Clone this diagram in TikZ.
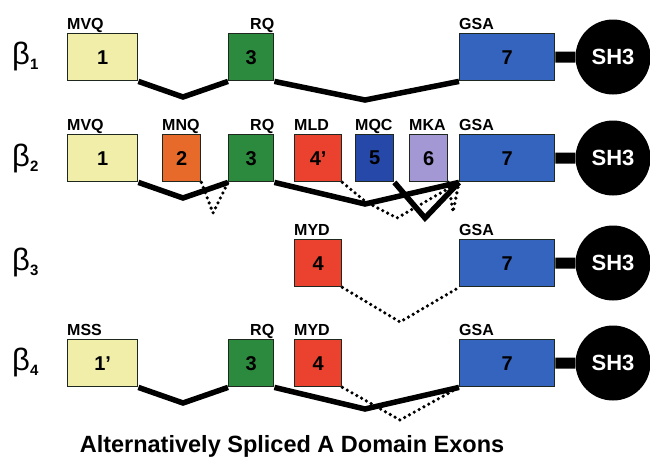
\documentclass[tikz,border=0pt]{standalone}
\usepackage{fontspec}
\setmainfont{Liberation Sans}
\usetikzlibrary{backgrounds}

\definecolor{exA}{RGB}{240,238,168}
\definecolor{exB}{RGB}{232,106,42}
\definecolor{exC}{RGB}{44,138,62}
\definecolor{exD}{RGB}{234,66,46}
\definecolor{exE}{RGB}{38,72,168}
\definecolor{exF}{RGB}{164,152,212}
\definecolor{exG}{RGB}{52,100,190}
\definecolor{rim}{RGB}{30,40,30}

\tikzset{
  exon/.style={draw=rim, line width=1.4pt, anchor=north west, inner sep=0pt,
    minimum height=47pt, text=black, font=\fontsize{20}{20}\selectfont\bfseries},
  wA/.style={minimum width=70pt},
  wB/.style={minimum width=38pt},
  wC/.style={minimum width=45pt},
  wD/.style={minimum width=47pt},
  wG/.style={minimum width=95pt},
  tag/.style={anchor=base west, inner sep=0pt, yshift=4pt,
    font=\fontsize{16}{16}\selectfont\bfseries},
  tagr/.style={tag, anchor=base east},
  intron/.style={line width=5.5pt, line join=miter},
  skipline/.style={line width=3.6pt, line cap=round, dash pattern=on 0pt off 5.5pt},
  sh3ball/.style={circle, fill=black, minimum size=75pt, inner sep=0pt,
    text=white, font=\fontsize{22}{22}\selectfont\bfseries},
  linkbar/.style={line width=11pt},
  iso/.style={anchor=base west, inner sep=0pt, font=\fontsize{31}{31}\selectfont},
  titletext/.style={anchor=base, inner sep=0pt, font=\fontsize{23.5}{23.5}\selectfont\bfseries}
}

\newcommand{\isosub}[1]{\raisebox{-5pt}{\fontsize{15}{15}\selectfont\bfseries #1}}

\begin{document}
\begin{tikzpicture}[x=1pt, y=-1pt]
\useasboundingbox (0,0) rectangle (650,461);

% ---------- beta 1 ----------
\node[iso] (b1) at (12,64) {β\isosub{1}};
\node[exon, wA, fill=exA] (a1) at (67,33) {1};
\node[exon, wC, fill=exC] (a3) at (228,33) {3};
\node[exon, wG, fill=exG] (a7) at (459,33) {7};
\node[sh3ball] (ash) at (613,57) {SH3};
\node[tag]  (a1t) at (a1.north west) {MVQ};
\node[tagr] (a3t) at (a3.north east) {RQ};
\node[tag]  (a7t) at (a7.north west) {GSA};
\coordinate (a13) at (183,97);
\coordinate (a37) at (365,100);

% ---------- beta 2 ----------
\node[iso] (b2) at (12,166) {β\isosub{2}};
\node[exon, wA, fill=exA] (c1) at (67,134) {1};
\node[exon, wB, fill=exB] (c2) at (162,134) {2};
\node[exon, wC, fill=exC] (c3) at (228,134) {3};
\node[exon, wD, fill=exD] (c4) at (294,134) {4’};
\node[exon, wB, fill=exE] (c5) at (355,134) {5};
\node[exon, wB, fill=exF] (c6) at (409,134) {6};
\node[exon, wG, fill=exG] (c7) at (459,134) {7};
\node[sh3ball] (csh) at (613,158) {SH3};
\node[tag]  (c1t) at (c1.north west) {MVQ};
\node[tag]  (c2t) at (c2.north west) {MNQ};
\node[tagr] (c3t) at (c3.north east) {RQ};
\node[tag]  (c4t) at (c4.north west) {MLD};
\node[tag]  (c5t) at (c5.north west) {MQC};
\node[tag]  (c6t) at (c6.north west) {MKA};
\node[tag]  (c7t) at (c7.north west) {GSA};
\coordinate (c13) at (183,198);
\coordinate (c37) at (365,204);
\coordinate (c57) at (425,218);
\coordinate (c23) at (213,213);
\coordinate (c4a) at (366,202);
\coordinate (c4b) at (397,218);
\coordinate (c67) at (453,212);

% ---------- beta 3 ----------
\node[iso] (b3) at (12,270) {β\isosub{3}};
\node[exon, wD, fill=exD] (d4) at (294,239) {4};
\node[exon, wG, fill=exG] (d7) at (459,239) {7};
\node[sh3ball] (dsh) at (613,263) {SH3};
\node[tag]  (d4t) at (d4.north west) {MYD};
\node[tag]  (d7t) at (d7.north west) {GSA};
\coordinate (d47) at (400,322);

% ---------- beta 4 ----------
\node[iso] (b4) at (12,370) {β\isosub{4}};
\node[exon, wA, fill=exA] (e1) at (67,339) {1’};
\node[exon, wC, fill=exC] (e3) at (228,339) {3};
\node[exon, wD, fill=exD] (e4) at (294,339) {4};
\node[exon, wG, fill=exG] (e7) at (459,339) {7};
\node[sh3ball] (esh) at (613,363) {SH3};
\node[tag]  (e1t) at (e1.north west) {MSS};
\node[tagr] (e3t) at (e3.north east) {RQ};
\node[tag]  (e4t) at (e4.north west) {MYD};
\node[tag]  (e7t) at (e7.north west) {GSA};
\coordinate (e13) at (183,403);
\coordinate (e37) at (365,409);
\coordinate (e47) at (400,420);

\node[titletext] (cap) at (292,452) {Alternatively Spliced A Domain Exons};

% ---------- splice connectors, behind the exon boxes ----------
\begin{pgfonlayer}{background}
  \fill[white] (0,0) rectangle (650,461);
  % beta 1
  \draw[linkbar] (a7.east) -- (ash.west);
  \draw[intron] (a1.south east) -- (a13) -- (a3.south west);
  \draw[intron] (a3.south east) -- (a37) -- (a7.south west);
  % beta 2
  \draw[linkbar] (c7.east) -- (csh.west);
  \draw[skipline] (c2.south east) -- (c23) -- (c3.south west);
  \draw[skipline] (c4.south east) -- (c4a) -- (c4b) -- (c7.south west);
  \draw[skipline] (c6.south east) -- (c67) -- (c7.south west);
  \draw[intron] (c1.south east) -- (c13) -- (c3.south west);
  \draw[intron] (c3.south east) -- (c37) -- (c7.south west);
  \draw[intron] (c5.south east) -- (c57) -- (c7.south west);
  % beta 3
  \draw[linkbar] (d7.east) -- (dsh.west);
  \draw[skipline] (d4.south east) -- (d47) -- (d7.south west);
  % beta 4
  \draw[linkbar] (e7.east) -- (esh.west);
  \draw[skipline] (e4.south east) -- (e47) -- (e7.south west);
  \draw[intron] (e1.south east) -- (e13) -- (e3.south west);
  \draw[intron] (e3.south east) -- (e37) -- (e7.south west);
\end{pgfonlayer}
\end{tikzpicture}
\end{document}
